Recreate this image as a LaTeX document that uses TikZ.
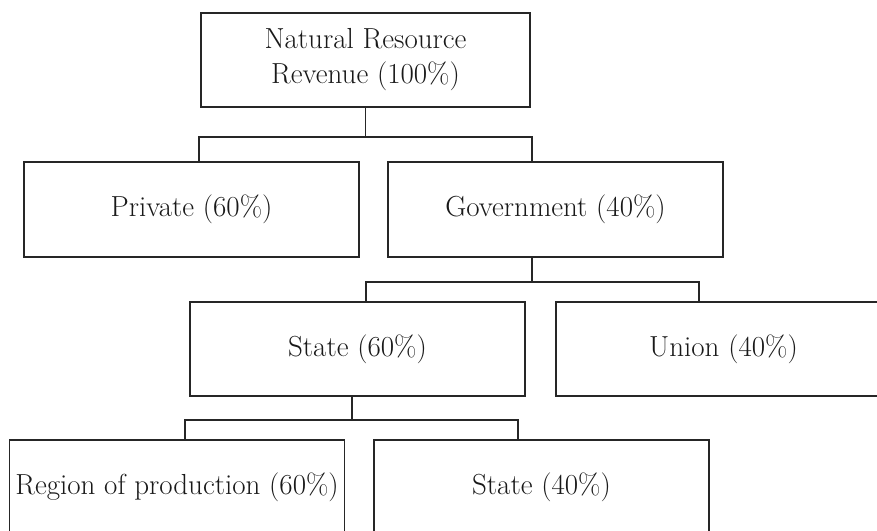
\documentclass[tikz,border=0pt]{standalone}
\usetikzlibrary{calc}

\tikzset{
  box/.style={draw=black!85, line width=1pt, text=black!90,
    minimum width=6.7cm, minimum height=1.9cm, inner sep=0pt,
    align=center, font=\fontsize{16.5}{19.9}\selectfont},
  wire/.style={draw=black!85, line width=1pt}
}

\begin{document}
\begin{tikzpicture}[x=0.02cm,y=-0.02cm]
\useasboundingbox (0,0) rectangle (877,531);
\clip (0,0) rectangle (877,531);

\node[box, minimum width=6.58cm, minimum height=1.88cm] (nrr) at (365.5,60) {Natural Resource\\Revenue (100\%)};
\node[box] (priv) at (191.5,209.5) {Private (60\%)};
\node[box] (gov) at (555.5,209.5) {Government (40\%)};
\node[box, minimum height=1.88cm] (st) at (357.5,349) {State (60\%)};
\node[box, minimum height=1.88cm] (uni) at (723.5,349) {Union (40\%)};
\node[box, minimum height=1.88cm] (reg) at (177,487) {Region of production (60\%)};
\node[box, minimum height=1.88cm] (st40) at (541.5,487) {State (40\%)};

\draw[wire] (nrr.south) -- ++(0,29) coordinate (b1);
\draw[wire] ($(priv.north)+(7.5,0)$) |- (b1) -| ($(gov.north)+(-23.5,0)$);

\draw[wire] ($(gov.south)+(-23.5,0)$) -- ++(0,24) coordinate (b2);
\draw[wire] ($(st.north)+(8.5,0)$) |- (b2) -| ($(uni.north)+(-24.5,0)$);

\draw[wire] ($(st.south)+(-5.5,0)$) -- ++(0,23) coordinate (b3);
\draw[wire] ($(reg.north)+(8,0)$) |- (b3) -| ($(st40.north)+(-23.5,0)$);

\end{tikzpicture}
\end{document}
